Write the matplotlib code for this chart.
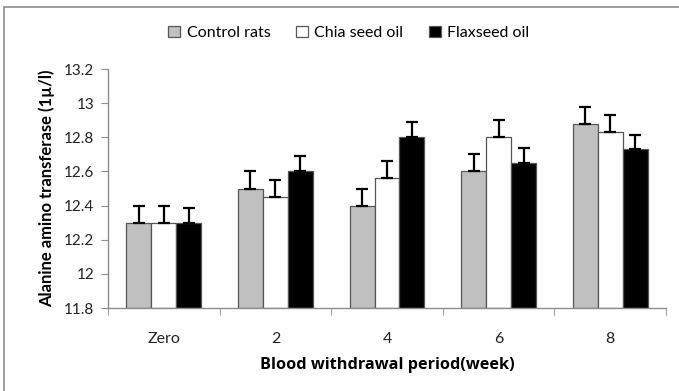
import matplotlib
matplotlib.use("Agg")
import matplotlib.pyplot as plt
import numpy as np
from matplotlib.patches import Rectangle

categories = ["Zero", "2", "4", "6", "8"]
series_names = ["Control rats", "Chia seed oil", "Flaxseed oil"]
control = [12.30, 12.50, 12.40, 12.60, 12.88]
chia = [12.30, 12.45, 12.56, 12.80, 12.83]
flax = [12.30, 12.60, 12.80, 12.65, 12.73]
control_err = [0.10, 0.10, 0.10, 0.10, 0.10]
chia_err = [0.10, 0.10, 0.10, 0.10, 0.10]
flax_err = [0.085, 0.09, 0.09, 0.09, 0.085]
yticks = [11.8, 12.0, 12.2, 12.4, 12.6, 12.8, 13.0, 13.2]
ytick_labels = ["11.8", "12", "12.2", "12.4", "12.6", "12.8", "13", "13.2"]

plt.rcParams['font.family'] = ['Lato', 'DejaVu Sans']

fig = plt.figure(figsize=(6.79, 3.91), dpi=100)
ax = fig.add_axes([108/679, 1-308/391, (666-108)/679, (308-69)/391])

# figure border
fig.patches.append(Rectangle((4/679, -0.1), 1.2, 1 - 7/391 + 0.1, transform=fig.transFigure,
                             fill=False, edgecolor="#8c8c8c", linewidth=1.2))

x = np.arange(len(categories))
w = 0.224
fills = ["#c0c0c0", "#ffffff", "#000000"]
vals = [control, chia, flax]
errs = [control_err, chia_err, flax_err]
for i in range(3):
    pos = x + (i - 1) * w
    ax.bar(pos, np.array(vals[i]) - 11.8, width=w, bottom=11.8, color=fills[i],
           edgecolor="#555555", linewidth=0.9, label=series_names[i], zorder=2)
    ax.errorbar(pos, vals[i], yerr=[np.zeros(5), errs[i]], fmt="none", ecolor="black",
                elinewidth=1.6, capsize=4, capthick=1.6, zorder=3)

ax.set_xlim(-0.5, 4.5)
ax.set_ylim(11.8, 13.2)
ax.set_yticks(yticks)
ax.set_yticklabels(ytick_labels, fontsize=11, color="#222222")
ax.set_xticks(x)
ax.set_xticklabels(categories, fontsize=11.5, color="#222222")
ax.set_xticks(np.arange(-0.5, 5, 1), minor=True)
ax.tick_params(axis="x", which="major", length=0, pad=17)
ax.tick_params(axis="x", which="minor", length=5, color="#8c8c8c", direction="out")
ax.tick_params(axis="y", length=5, color="#8c8c8c", direction="out", pad=5)
for s in ["top", "right"]:
    ax.spines[s].set_visible(False)
for s in ["left", "bottom"]:
    ax.spines[s].set_color("#8c8c8c")
    ax.spines[s].set_linewidth(1.0)

ax.set_ylabel("Alanine amino transferase (1\u00b5/l)", fontsize=12, fontweight="bold", labelpad=6)
ax.set_xlabel("Blood withdrawal period(week)", fontsize=11.7, fontweight="bold", labelpad=8,
              family=["Open Sans", "DejaVu Sans"])

leg = fig.legend(loc="center", bbox_to_anchor=(349/679, 1-33/391), ncol=3, frameon=False,
                 fontsize=11.5, handlelength=0.75, handleheight=0.75, handletextpad=0.4,
                 columnspacing=1.6)

fig.savefig("out.png", dpi=100)
